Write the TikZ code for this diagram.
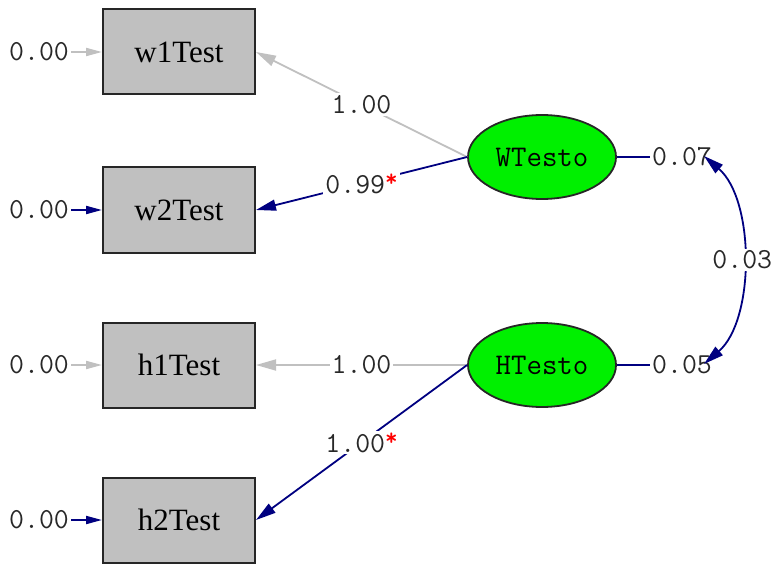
\documentclass[tikz,border=0pt]{standalone}
\usepackage{fontspec}
\setmainfont{Liberation Serif}
\usetikzlibrary{arrows.meta,shapes.geometric}
\definecolor{navy}{RGB}{0,0,128}
\definecolor{fixgray}{RGB}{192,192,192}
\definecolor{boxgray}{RGB}{192,192,192}
\definecolor{latgreen}{RGB}{0,240,0}
\definecolor{labtext}{RGB}{40,40,40}
\begin{document}
\begin{tikzpicture}[x=1pt,y=-1pt,
  obs/.style={rectangle, minimum width=152pt, minimum height=85pt,
    fill=boxgray, draw=black!85, line width=2pt,
    font=\fontsize{31}{31}\selectfont},
  lat/.style={ellipse, minimum width=148pt, minimum height=84pt,
    fill=latgreen, draw=black!85, line width=1.8pt,
    font=\ttfamily\fontsize{30}{30}\selectfont},
  lbl/.style={fill=white, inner sep=2pt, text=labtext,
    font=\ttfamily\fontsize{29}{29}\selectfont},
  fixed/.style={draw=fixgray, line width=1.8pt,
    -{Triangle[length=20pt,width=11pt]}},
  free/.style={draw=navy, line width=1.8pt,
    -{Triangle[length=20pt,width=11pt]}},
  errfixed/.style={draw=fixgray, line width=2pt,
    -{Triangle[length=16pt,width=8pt]}},
  errfree/.style={draw=navy, line width=2pt,
    -{Triangle[length=16pt,width=8pt]}}
]
\useasboundingbox (0,0) rectangle (773,564);

% observed indicators
\node[obs] (w1) at (179,52)  {w1Test};
\node[obs] (w2) at (179,210) {w2Test};
\node[obs] (h1) at (179,365) {h1Test};
\node[obs] (h2) at (179,520) {h2Test};

% measurement error variances
\node[lbl] (e1) at (39,52)  {0.00};
\node[lbl] (e2) at (39,210) {0.00};
\node[lbl] (e3) at (39,365) {0.00};
\node[lbl] (e4) at (39,520) {0.00};
\draw[errfixed] (e1) -- (w1);
\draw[errfree]  (e2) -- (w2);
\draw[errfixed] (e3) -- (h1);
\draw[errfree]  (e4) -- (h2);

% latent factors
\node[lat] (W) at (542,157) {WTesto};
\node[lat] (H) at (542,365) {HTesto};

% loadings
\draw[fixed] (W.west) -- (w1.east) node[lbl, pos=0.5] {1.00};
\draw[free]  (W.west) -- (w2.east) node[lbl, pos=0.5] {0.99\raisebox{7pt}{\textcolor{red}{\fontsize{24}{24}\selectfont\bfseries*}}};
\draw[fixed] (H.west) -- (h1.east) node[lbl, pos=0.5] {1.00};
\draw[free]  (H.west) -- (h2.east) node[lbl, pos=0.5] {1.00\raisebox{7pt}{\textcolor{red}{\fontsize{24}{24}\selectfont\bfseries*}}};

% factor variances
\node[lbl] (vW) at (682,157) {0.07};
\node[lbl] (vH) at (682,365) {0.05};
\draw[navy, line width=1.8pt] (W.east) -- (vW.west);
\draw[navy, line width=1.8pt] (H.east) -- (vH.west);

% factor covariance
\coordinate (cW) at (704,156);
\coordinate (cH) at (704,364);
\draw[navy, line width=1.8pt,
  {Triangle[length=20pt,width=11pt]}-{Triangle[length=20pt,width=11pt]}]
  (cW) .. controls (755,200) and (755,320) .. (cH)
  node[lbl, pos=0.5] {0.03};
\end{tikzpicture}
\end{document}
